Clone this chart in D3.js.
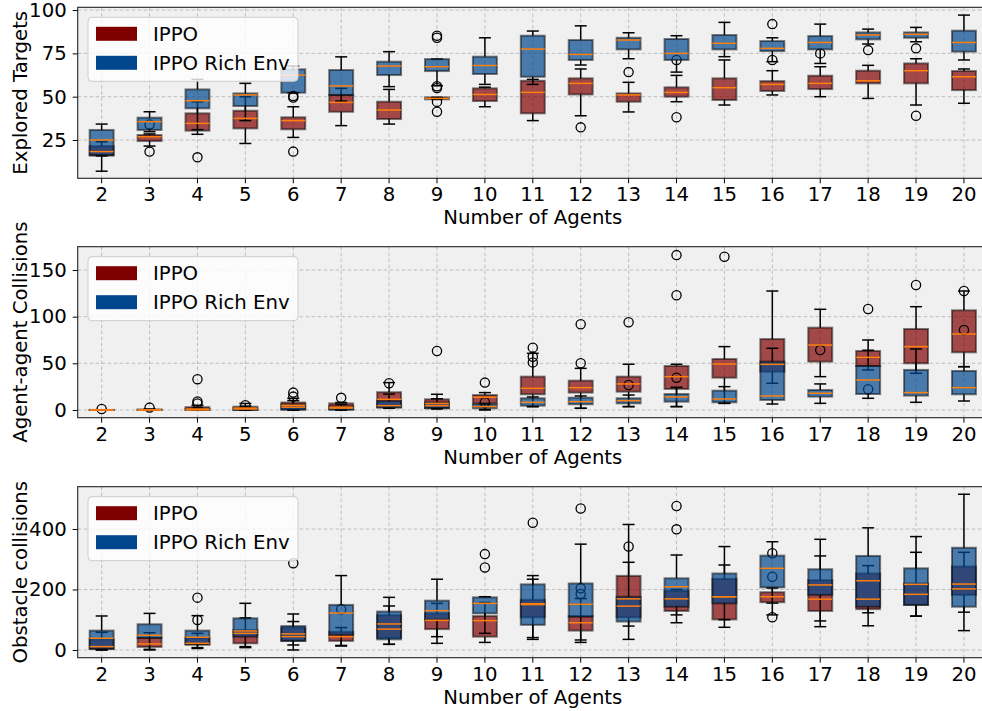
<!DOCTYPE html>
<html>
<head>
<meta charset="utf-8">
<script src="https://cdn.jsdelivr.net/npm/d3@7"></script>
<style>
  body { margin: 0; background: #fff; }
  svg { display: block; font-family: "DejaVu Sans", sans-serif; }
</style>
</head>
<body>
<svg id="chart" width="982" height="711"></svg>
<script>
// ---- data -------------------------------------------------------------
const agents = [2, 3, 4, 5, 6, 7, 8, 9, 10, 11, 12, 13, 14, 15, 16, 17, 18, 19, 20];
const seriesNames = ["IPPO", "IPPO Rich Env"];
const xLabel = "Number of Agents";

// box statistics per agent count: [whiskerLow, q1, median, q3, whiskerHigh]
const targetsIppo = [
  [7, 16, 18.3, 21.5, 24], [21.5, 24.4, 26.9, 27.9, 28.5], [28.3, 30.4, 34.6, 40.4, 47],
  [23, 31.7, 37.5, 41.9, 50], [26.5, 31.2, 36.2, 38.1, 44.2], [33.3, 41.3, 46.7, 51, 54.8],
  [34.2, 37.1, 42.3, 47.1, 54.2], [48.5, 48.5, 49, 49.6, 49.6], [44.2, 47.5, 51.3, 54.8, 55.5],
  [36.2, 40.4, 52.5, 59.2, 60], [39, 51.3, 57.7, 60.6, 66], [41.2, 47.1, 51, 51.9, 58.3],
  [47.1, 50, 52.5, 55.4, 62.3], [45.2, 48.1, 55.2, 60.6, 71.2], [51, 53.3, 57.1, 59, 65],
  [50, 54.4, 57.7, 62.1, 67.3], [49, 57.7, 59.2, 65, 68.1], [45.2, 57.7, 65, 69.2, 71.9],
  [46.2, 53.8, 61.5, 64.8, 66]
];
const targetsIppoOut = [[], [34, 18.3], [15], [], [18.3], [], [], [56, 55, 47, 41.3], [], [],
  [32.3], [64.2], [71.2, 38.1], [], [71.2], [75], [76.9], [77.9, 39], []];
const targetsRich = [
  [15.8, 16.3, 25, 30.8, 34.2], [29.8, 30.8, 35.6, 37.9, 41.3], [31, 43.3, 47.7, 54.2, 60],
  [36.2, 44.6, 51, 51.9, 57.7], [52.3, 52.3, 62.5, 65.8, 67.7], [47.5, 51, 56.2, 65.4, 73],
  [55.8, 62.5, 67.7, 70.2, 76], [56.3, 64.8, 67.3, 71.7, 71.7], [57.1, 63.1, 68, 73.1, 84],
  [57.1, 61.5, 77.5, 85.2, 87.9], [68.3, 71.2, 74.4, 82.7, 90.9], [71.9, 77.3, 82.7, 84, 86.9],
  [64.2, 71.2, 75, 83.3, 85.2], [73.1, 77.3, 80.8, 85.6, 92.9], [70.2, 76.3, 77.9, 82.1, 84],
  [69.2, 77.3, 81.3, 85, 91.9], [80.4, 83.1, 85.6, 87.1, 89], [81.7, 84, 86, 87.1, 90],
  [71.2, 76, 81.3, 88.1, 97.1]
];
const targetsRichOut = [[], [], [], [], [50.4, 49.5], [], [], [85.2, 84], [], [], [], [], [], [],
  [91.9], [], [], [], []];
const targetsTicks = [25, 50, 75, 100];

const agentCollIppo = [
  [0, 0, 0, 0, 0], [0, 0, 0, 0.5, 1], [0, 0, 1, 3, 5], [0, 0, 2, 3.5, 7], [0, 1, 5, 8, 12.5],
  [0, 1, 3, 7, 8], [1.8, 3, 11.4, 19, 29.3], [1.8, 1.8, 7, 11.4, 16.8], [0, 7, 13.6, 16, 18.6],
  [3.6, 16.8, 23.2, 35.7, 60.7], [1.8, 18.6, 23.9, 31.4, 44.6], [3.6, 19.6, 27.9, 35.7, 49],
  [3.6, 22.5, 35.7, 47.1, 49], [7.1, 34.6, 49.3, 54.6, 67.9], [28.6, 41, 48.9, 76, 127.5],
  [35.7, 51.8, 69.6, 88.2, 107.9], [42.9, 47.1, 56.4, 63.2, 75], [39.3, 50, 67.9, 86.8, 110.7],
  [46.4, 61.8, 81.4, 106.8, 127.5]
];
const agentCollIppoOut = [[1], [2.5], [33, 9], [], [18.6], [13], [], [63.2], [29.3], [66.8],
  [91.8], [94], [166, 122.9], [164.3], [], [], [108.2, 22.2], [133.9], []];
const agentCollRich = [
  [0, 0, 0, 0, 0], [0, 0, 0, 0, 0], [0, 0, 0, 1, 2], [0, 0, 1, 2, 4], [0, 0, 3, 6, 10],
  [0, 0, 2, 4, 6], [1.8, 2.5, 4.6, 9.6, 17], [1, 2, 4.6, 8, 12], [0.5, 1.8, 3.6, 6, 6.5],
  [3.6, 4.6, 8.2, 12.5, 13.9], [1.8, 6.1, 8.9, 13.2, 15], [3.6, 7.1, 10, 12.5, 16],
  [3.6, 8.9, 13.9, 17.1, 24.3], [7.1, 8.2, 11.8, 20.7, 25], [6.4, 10.7, 15, 51.8, 66.1],
  [7.1, 14.3, 17.9, 21.4, 27.9], [12.5, 17.1, 32.1, 47.1, 64], [8.2, 15.4, 18.6, 42.9, 65.4],
  [9.6, 16.8, 23.9, 41.8, 46.4]
];
const agentCollRichOut = [[], [], [7], [5], [14.3], [], [28.6], [], [8.2], [57, 51], [50], [26.8],
  [34.6], [], [], [64.3], [], [], [85.7, 127.5]];
const agentCollTicks = [0, 50, 100, 150];

const obstacleIppo = [
  [0, 3, 11, 35, 58.4], [0, 10, 19.8, 40, 57], [5, 17, 22, 40, 55], [7.7, 22, 55, 66, 106],
  [16.5, 30, 53, 74, 94], [13, 30, 44, 60, 74], [18.7, 40, 69, 115, 145.5], [22, 69, 98, 121, 154],
  [25, 44, 97, 112, 157], [35, 108, 150, 166, 234], [25, 64, 90, 112, 170], [79, 108, 145, 245, 290],
  [90, 129, 169, 196, 200], [75, 101, 176, 235, 281], [116, 158, 176, 191, 205],
  [77, 129, 168, 231, 311], [80, 135, 168, 253, 279], [112, 149, 184, 220, 323],
  [125, 182, 202, 276, 323]
];
const obstacleIppoOut = [[], [], [99.2], [], [287], [134.5], [], [], [], [], [204, 185], [342], [],
  [], [320, 242, 108], [], [], [], []];
const obstacleRich = [
  [0, 4, 38.6, 64, 112.4], [2, 40, 48.5, 85, 121], [7.7, 20, 42, 64, 113.5], [11, 44, 62.8, 104.7, 154.3],
  [0, 30, 44, 79, 119], [15, 50, 122, 149, 246], [18.7, 35, 86, 127, 174], [44, 100, 130, 163, 234],
  [55, 121, 154, 174, 176], [41, 83, 153, 217, 246], [33, 110, 151, 220, 350], [35, 94, 169, 176, 415],
  [116, 143, 209, 237, 314], [100, 154, 176, 253, 342], [155, 207, 270, 312, 358],
  [96, 182, 215, 267, 366], [123, 143, 229, 311, 404], [112, 149, 217, 270, 375],
  [64, 143, 218, 338, 515]
];
const obstacleRichOut = [[], [], [173], [], [], [], [], [], [317, 273], [421], [468], [], [476, 399],
  [], [], [], [], [], []];
const obstacleTicks = [0, 200, 400];

// ---- layout & style ---------------------------------------------------
const svg = d3.select("#chart");
const colors = ["#800000", "#00478d"];
const plotLeft = 77.7, plotRight = 987.9, plotH = 171;
const fontSize = 19.7;

const panels = [
  { label: "Explored Targets", top: 7.3, domain: [2.9, 101.6], ticks: targetsTicks,
    series: [[targetsIppo, targetsIppoOut], [targetsRich, targetsRichOut]] },
  { label: "Agent-agent Collisions", top: 246.7, domain: [-8.3, 175], ticks: agentCollTicks,
    series: [[agentCollIppo, agentCollIppoOut], [agentCollRich, agentCollRichOut]] },
  { label: "Obstacle collisions", top: 486.7, domain: [-25.6, 540], ticks: obstacleTicks,
    series: [[obstacleIppo, obstacleIppoOut], [obstacleRich, obstacleRichOut]] }
];

const x = d3.scaleBand().domain(agents).range([plotLeft, plotRight]).paddingInner(0).paddingOuter(0);
const bw = x.bandwidth();
const cx = a => x(a) + bw / 2;
const boxW = bw * 0.5, capW = bw * 0.25;

panels.forEach(p => {
  const g = svg.append("g");
  const bottom = p.top + plotH;
  const y = d3.scaleLinear().domain(p.domain).range([bottom, p.top]);

  // plot background
  g.append("rect").attr("x", plotLeft).attr("y", p.top)
    .attr("width", plotRight - plotLeft).attr("height", plotH).attr("fill", "#f0f0f0");

  // dashed grid
  const grid = g.append("g").attr("stroke", "#b8b8b8").attr("stroke-width", 0.9)
    .attr("stroke-dasharray", "3.5,2.5");
  p.ticks.forEach(t => grid.append("line").attr("x1", plotLeft).attr("x2", plotRight)
    .attr("y1", y(t)).attr("y2", y(t)));
  agents.forEach(a => grid.append("line").attr("x1", cx(a)).attr("x2", cx(a))
    .attr("y1", p.top).attr("y2", bottom));

  // boxes, whiskers, caps and fliers: first series, then second on top
  p.series.forEach(([stats, outs], si) => {
    const sg = g.append("g");
    agents.forEach((a, i) => {
      const [wl, q1, med, q3, wh] = stats[i];
      const c = cx(a);
      sg.append("line").attr("x1", c).attr("x2", c).attr("y1", y(q1)).attr("y2", y(wl))
        .attr("stroke", "#000").attr("stroke-width", 1.5);
      sg.append("line").attr("x1", c).attr("x2", c).attr("y1", y(q3)).attr("y2", y(wh))
        .attr("stroke", "#000").attr("stroke-width", 1.5);
      [wl, wh].forEach(v => sg.append("line")
        .attr("x1", c - capW / 2).attr("x2", c + capW / 2).attr("y1", y(v)).attr("y2", y(v))
        .attr("stroke", "#000").attr("stroke-width", 1.5));
      sg.append("rect").attr("x", c - boxW / 2).attr("y", y(q3))
        .attr("width", boxW).attr("height", Math.max(0.01, y(q1) - y(q3)))
        .attr("fill", colors[si]).attr("fill-opacity", 0.7)
        .attr("stroke", "#000").attr("stroke-opacity", 0.5).attr("stroke-width", 2);
      outs[i].forEach(v => sg.append("circle").attr("cx", c).attr("cy", y(v)).attr("r", 4.6)
        .attr("fill", "none").attr("stroke", "#000").attr("stroke-width", 1.3));
    });
  });

  // medians drawn above every box
  p.series.forEach(([stats]) => {
    agents.forEach((a, i) => {
      const c = cx(a), m = stats[i][2];
      g.append("line").attr("x1", c - boxW / 2).attr("x2", c + boxW / 2)
        .attr("y1", y(m)).attr("y2", y(m))
        .attr("stroke", "#ff7f0e").attr("stroke-width", 1.5);
    });
  });

  // axes
  const ya = g.append("g").attr("transform", `translate(${plotLeft},0)`)
    .call(d3.axisLeft(y).tickValues(p.ticks).tickSize(5).tickPadding(6));
  const xa = g.append("g").attr("transform", `translate(0,${bottom})`)
    .call(d3.axisBottom(x).tickSize(5).tickPadding(4));
  [ya, xa].forEach(ax => {
    ax.select(".domain").remove();
    ax.selectAll("text").attr("font-size", fontSize).attr("font-family", "DejaVu Sans").attr("fill", "#000");
    ax.selectAll("line").attr("stroke", "#000").attr("stroke-width", 1);
  });

  // frame
  g.append("rect").attr("x", plotLeft).attr("y", p.top)
    .attr("width", plotRight - plotLeft).attr("height", plotH)
    .attr("fill", "none").attr("stroke", "#222").attr("stroke-width", 1.1);

  // axis titles
  g.append("text").attr("x", (plotLeft + plotRight) / 2).attr("y", bottom + 39)
    .attr("text-anchor", "middle").attr("dy", "0.35em").attr("font-size", fontSize).text(xLabel);
  g.append("text").attr("transform", `translate(20,${p.top + plotH / 2}) rotate(-90)`)
    .attr("text-anchor", "middle").attr("dy", "0.35em").attr("font-size", fontSize).text(p.label);

  // legend
  const lg = g.append("g").attr("transform", `translate(88,${p.top + 10})`);
  lg.append("rect").attr("width", 210).attr("height", 64).attr("rx", 4)
    .attr("fill", "#fff").attr("fill-opacity", 0.8).attr("stroke", "#cccccc").attr("stroke-width", 1);
  seriesNames.forEach((name, si) => {
    const cy = 16.5 + si * 29;
    lg.append("rect").attr("x", 8).attr("y", cy - 7).attr("width", 41).attr("height", 14)
      .attr("fill", colors[si]);
    lg.append("text").attr("x", 65).attr("y", cy).attr("dy", "0.35em")
      .attr("font-size", fontSize).text(name);
  });
});
</script>
</body>
</html>
